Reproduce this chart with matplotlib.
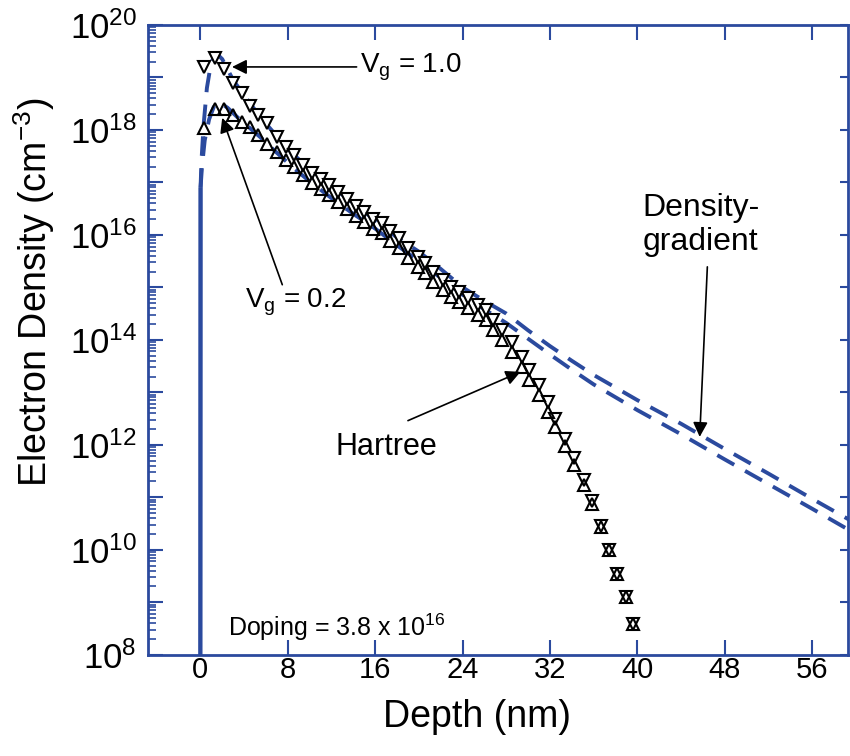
import numpy as np
import matplotlib
matplotlib.use("Agg")
import matplotlib.pyplot as plt
from matplotlib.ticker import FixedLocator, FuncFormatter, LogLocator, NullLocator

plt.rcParams['font.family'] = ['Liberation Sans', 'DejaVu Sans']
plt.rcParams['mathtext.fontset'] = 'custom'
plt.rcParams['mathtext.rm'] = 'Liberation Sans'
plt.rcParams['mathtext.it'] = 'Liberation Sans'

BLUE = "#2b4a9e"

# Hartree results (log10 of density), Vg = 1.0 (down triangles) and Vg = 0.2 (up triangles)
depth_hartree = [0.3, 1.3, 2.2, 3.0, 3.8, 4.5, 5.3, 6.1, 7.0, 7.8, 8.6,
                 9.4, 10.2, 11.0, 11.8, 12.6, 13.4, 14.2, 15.0, 15.8, 16.6,
                 17.4, 18.2, 19.0, 19.9, 20.6, 21.3, 22.2, 22.9, 23.7, 24.5,
                 25.4, 26.1, 26.8, 27.6, 28.5, 29.4, 30.1, 31.0, 31.8, 32.5,
                 33.4, 34.2, 35.1, 35.8, 36.7, 37.4, 38.1, 39.0, 39.6]
log_n_vg10 = [19.20, 19.37, 19.16, 18.90, 18.70, 18.46, 18.29, 18.13, 17.87, 17.68, 17.52,
              17.33, 17.18, 17.07, 16.95, 16.82, 16.69, 16.55, 16.44, 16.30, 16.23,
              16.08, 15.94, 15.75, 15.58, 15.47, 15.30, 15.14, 15.01, 14.91, 14.80,
              14.66, 14.57, 14.38, 14.19, 13.96, 13.68, 13.43, 13.14, 12.81, 12.50,
              12.11, 11.74, 11.33, 10.93, 10.45, 10.00, 9.54, 9.10, 8.59]
log_n_vg02 = [18.04, 18.40, 18.40, 18.29, 18.15, 18.06, 17.90, 17.73, 17.58, 17.43, 17.30,
              17.14, 16.99, 16.88, 16.76, 16.63, 16.50, 16.36, 16.25, 16.11, 16.04,
              15.89, 15.75, 15.56, 15.39, 15.28, 15.10, 14.95, 14.82, 14.72, 14.61,
              14.47, 14.38, 14.19, 14.00, 13.77, 13.49, 13.24, 12.95, 12.62, 12.34,
              11.97, 11.62, 11.23, 10.87, 10.43, 10.00, 9.54, 9.10, 8.59]

# density-gradient curves (log10 of density)
depth_dg10 = [0.0, 0.02, 0.1, 0.3, 0.6, 1.0, 1.5, 2.0, 3.0, 4.0, 5.0, 6.0, 7.0, 8.0,
              9.0, 10.0, 12.0, 14.0, 16.0, 18.0, 20.0, 22.0, 24.0, 26.0, 28.0, 30.0,
              32.0, 34.0, 36.0, 40.0, 44.0, 48.0, 52.0, 56.0, 60.0]
log_dg10 = [7.5, 16.9, 17.4, 18.1, 18.8, 19.3, 19.45, 19.35, 18.95, 18.66, 18.38, 18.12,
            17.88, 17.64, 17.44, 17.26, 16.93, 16.60, 16.28, 15.95, 15.68, 15.35, 15.00,
            14.74, 14.50, 14.18, 13.88, 13.60, 13.33, 12.85, 12.40, 11.92, 11.45, 10.97, 10.50]
depth_dg02 = [0.0, 0.02, 0.15, 0.4, 0.8, 1.3, 1.8, 2.5, 3.5, 4.5, 5.5, 6.5, 7.5, 8.5,
              10.0, 12.0, 14.0, 16.0, 18.0, 20.0, 22.0, 24.0, 26.0, 28.0, 30.0, 32.0,
              34.0, 36.0, 40.0, 44.0, 48.0, 52.0, 56.0, 60.0]
log_dg02 = [7.5, 16.9, 17.3, 17.8, 18.2, 18.48, 18.52, 18.42, 18.22, 18.04, 17.86, 17.66,
            17.47, 17.28, 17.02, 16.70, 16.40, 16.12, 15.80, 15.50, 15.18, 14.86, 14.58,
            14.32, 14.02, 13.72, 13.43, 13.15, 12.66, 12.20, 11.72, 11.25, 10.78, 10.30]

x_ticks = [0, 8, 16, 24, 32, 40, 48, 56]

fig = plt.figure(figsize=(8.5, 7.56), dpi=100)
ax = fig.add_axes([0.174, 0.134, 0.824, 0.833])
ax.set_yscale('log')

for xs, logs in [(depth_dg10, log_dg10), (depth_dg02, log_dg02)]:
    xs = np.array(xs)
    n = 10 ** np.array(logs)
    # steep rise at the surface is drawn solid, the rest dashed
    ax.plot(xs[:2], n[:2], color=BLUE, lw=2.8, solid_capstyle='butt')
    ax.plot(xs[1:], n[1:], color=BLUE, lw=2.8, dashes=(5.0, 3.2))

x_h = np.array(depth_hartree)
ax.plot(x_h, 10 ** np.array(log_n_vg10), ls='none', marker='v', ms=8,
        mfc='white', mec='black', mew=1.5)
ax.plot(x_h, 10 ** np.array(log_n_vg02), ls='none', marker='^', ms=8,
        mfc='none', mec='black', mew=1.5)

ax.set_xlim(-4.8, 59.3)
ax.set_ylim(1e8, 1e20)

ax.xaxis.set_major_locator(FixedLocator(x_ticks))
ax.yaxis.set_major_locator(FixedLocator([10.0 ** k for k in range(8, 21)]))
ax.yaxis.set_major_formatter(FuncFormatter(
    lambda v, p: r'$10^{%d}$' % round(np.log10(v)) if round(np.log10(v)) % 2 == 0 else ''))
ax.yaxis.set_minor_locator(LogLocator(base=10, subs=np.arange(2, 10), numticks=50))
ax.tick_params(axis='x', which='major', direction='in', length=11, width=1.5,
               color=BLUE, top=True, labelsize=21, pad=1)
ax.tick_params(axis='y', which='major', direction='in', length=11, width=1.5,
               color=BLUE, labelsize=25, pad=8)
ax.tick_params(axis='y', which='minor', direction='in', length=6, width=1.2, color=BLUE)
for sp in ax.spines.values():
    sp.set_color(BLUE)
    sp.set_linewidth(2)

# right side carries decade ticks only
ax2 = ax.twinx()
ax2.set_yscale('log')
ax2.set_ylim(1e8, 1e20)
ax2.yaxis.set_major_locator(FixedLocator([10.0 ** k for k in range(8, 21)]))
ax2.yaxis.set_minor_locator(NullLocator())
ax2.tick_params(axis='y', direction='in', length=6, width=1.5, color=BLUE, labelright=False)
for sp in ax2.spines.values():
    sp.set_visible(False)

ax.set_xlabel('Depth (nm)', fontsize=27)
ax.xaxis.set_label_coords(0.47, -0.07)
ax.set_ylabel('Electron Density (cm$^{-3}$)', fontsize=27)
ax.yaxis.set_label_coords(-0.13, 0.575)

arrow = dict(arrowstyle='-|>', color='black', lw=1.2, mutation_scale=22, shrinkA=0, shrinkB=0)
ax.annotate('', xy=(2.9, 10 ** 19.2), xytext=(14.3, 10 ** 19.2), arrowprops=arrow)
ax.text(14.6, 10 ** 19.2, r'V$_\mathrm{g}$ = 1.0', fontsize=20, va='center', ha='left')

ax.annotate('', xy=(2.0, 10 ** 18.23), xytext=(7.5, 10 ** 15.05), arrowprops=arrow)
ax.text(4.1, 10 ** 14.72, r'V$_\mathrm{g}$ = 0.2', fontsize=20, va='center', ha='left')

ax.annotate('', xy=(45.7, 10 ** 12.15), xytext=(46.4, 10 ** 15.39), arrowprops=arrow)
ax.text(45.8, 10 ** 16.19, 'Density-\ngradient', fontsize=23, va='center', ha='center',
        linespacing=1.2)

ax.annotate('', xy=(29.3, 10 ** 13.39), xytext=(19.0, 10 ** 12.46), arrowprops=arrow)
ax.text(17.0, 10 ** 11.96, 'Hartree', fontsize=22, va='center', ha='center')

ax.text(2.55, 10 ** 8.53, r'Doping = 3.8 x 10$^{16}$', fontsize=18, va='center', ha='left')

fig.savefig('out.png', dpi=100)
